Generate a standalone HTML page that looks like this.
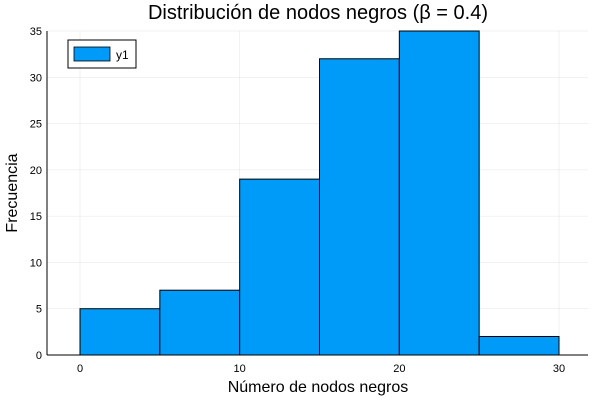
<!DOCTYPE html>
<html><head><meta charset="utf-8"><style>body{margin:0;background:#fff}svg{display:block;font-family:"Liberation Sans",sans-serif}</style></head>
<body>
<svg id="chart" width="600" height="400">
<text x="318" y="19" text-anchor="middle" font-size="20" fill="#000">Distribución de nodos negros (β = 0.4)</text>
<g id="grid"></g>
<g id="bars"></g>
<g id="axes"></g>
<text x="318" y="392" text-anchor="middle" font-size="16">Número de nodos negros</text>
<text transform="translate(17,193) rotate(-90)" text-anchor="middle" font-size="16">Frecuencia</text>
<g>
<rect x="68" y="40" width="68" height="28" fill="#fff" stroke="#000" stroke-width="1"/>
<rect x="74" y="47" width="36" height="14" fill="#009af9" stroke="#000" stroke-width="0.8"/>
<text x="116" y="59" font-size="12">y1</text>
</g>
</svg>
<script>
const binEdges=[0,5,10,15,20,25,30];
const counts=[5,7,19,32,35,2];
const xTicks=[0,10,20,30];
const yTicks=[0,5,10,15,20,25,30,35];
const NS="http://www.w3.org/2000/svg";
const L=47,R=588,T=31,B=355;
const x=v=>80+(v/30)*(559-80);
const y=v=>B-(v/35)*(B-T);
function mk(tag,attrs,parent,text){const e=document.createElementNS(NS,tag);for(const k in attrs)e.setAttribute(k,attrs[k]);if(text!==undefined)e.textContent=text;document.getElementById(parent).appendChild(e);return e;}
xTicks.forEach(t=>{
const g=mk('line',{x1:x(t),x2:x(t),y1:T,y2:B,stroke:'#000','stroke-opacity':0.1,'stroke-width':0.5},'grid');


const l=mk('text',{x:x(t),y:372,'text-anchor':'middle','font-size':11},'axes',String(t));


});
yTicks.forEach(t=>{
const g=mk('line',{x1:L,x2:R,y1:y(t),y2:y(t),stroke:'#000','stroke-opacity':0.1,'stroke-width':0.5},'grid');


const l=mk('text',{x:42,y:y(t)+4,'text-anchor':'end','font-size':11},'axes',String(t));


});
counts.forEach((c,i)=>{
const r=mk('rect',{x:x(binEdges[i]),y:y(c),width:x(binEdges[i+1])-x(binEdges[i]),height:y(0)-y(c),fill:'#009af9',stroke:'#000','stroke-width':1},'bars');


});
const ax=mk('line',{x1:L,x2:R,y1:B,y2:B,stroke:'#000','stroke-width':1},'axes');


const ay=mk('line',{x1:L,x2:L,y1:T,y2:B,stroke:'#000','stroke-width':1},'axes');


</script>
</body></html>
